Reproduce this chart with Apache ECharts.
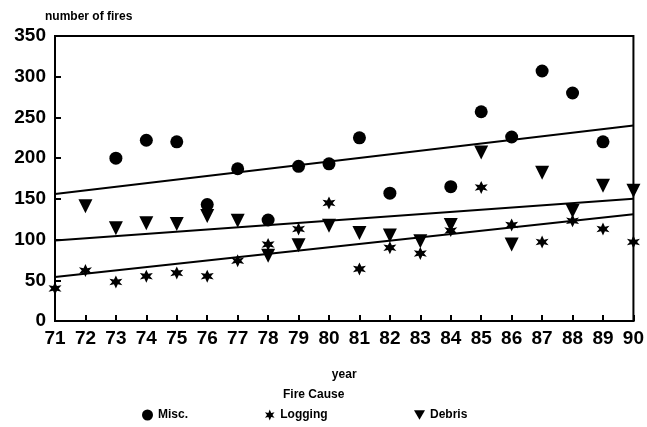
<!DOCTYPE html>
<html>
<head>
<meta charset="utf-8">
<script src="https://cdn.jsdelivr.net/npm/echarts@6/dist/echarts.min.js"></script>
<style>html,body{margin:0;padding:0;background:#fff;}#c{width:647px;height:427px;}</style>
</head>
<body>
<div id="c"></div>
<script>
var years = [71,72,73,74,75,76,77,78,79,80,81,82,83,84,85,86,87,88,89,90];
var misc =    [null,null,200,222,220,143,187,124,190,193,225,157,null,165,257,226,307,280,220,null];
var logging = [40,62,48,55,59,55,74,94,113,145,64,90,83,111,164,118,97,123,113,97];
var debris =  [null,141,114,120,119,129,123,80,93,117,108,105,98,118,207,94,182,135,166,160];
var trendYears = [71,90];
var miscTrend = [156,240];
var debrisTrend = [99,150];
var loggingTrend = [54,131];
var yTicks = [0,50,100,150,200,250,300,350];

function pairs(xs, ys){ var out=[]; for(var i=0;i<xs.length;i++){ if(ys[i]!==null) out.push([xs[i],ys[i]]); } return out; }

var starPath = 'path://M10 0 L12.6 6.4 L18.66 5 L14.9 10 L18.66 15 L12.6 13.6 L10 20 L7.4 13.6 L1.34 15 L5.1 10 L1.34 5 L7.4 6.4 Z';
var font = '"Liberation Sans", Arial, sans-serif';

var chart = echarts.init(document.getElementById('c'));
var lineStyle = {color:'#000', width:2};
var mk = {color:'#000', opacity:1};
chart.setOption({
  animation:false,
  backgroundColor:'#fff',
  grid:{left:55, right:13, top:36, bottom:106, show:true, borderColor:'#000', borderWidth:2},
  xAxis:{type:'value', min:71, max:90, interval:1,
    name:'year', nameLocation:'middle', nameGap:48,
    nameTextStyle:{fontFamily:font, fontWeight:'bold', fontSize:12, color:'#000'},
    axisLine:{show:true, onZero:false, lineStyle:{color:'#000', width:2}},
    axisTick:{show:true, inside:true, length:6, lineStyle:{color:'#000', width:2}},
    axisLabel:{fontFamily:font, fontSize:19, fontWeight:'bold', color:'#000', margin:8},
    splitLine:{show:false}},
  yAxis:{type:'value', min:0, max:350, interval:50,
    axisLine:{show:true, lineStyle:{color:'#000', width:2}},
    axisTick:{show:true, inside:true, length:6, lineStyle:{color:'#000', width:2}},
    axisLabel:{fontFamily:font, fontSize:19, fontWeight:'bold', color:'#000', margin:9,
      formatter:function(v){ return yTicks.indexOf(v)>=0 ? String(v) : ''; }},
    splitLine:{show:false}},
  legend:[
    {data:[{name:'Misc.', icon:'circle'}], left:137, top:404, itemWidth:11, itemHeight:11, itemGap:5,
      textStyle:{fontFamily:font, fontWeight:'bold', fontSize:12, color:'#000'}, selectedMode:false},
    {data:[{name:'Logging', icon:starPath}], left:260, top:404, itemWidth:11, itemHeight:11, itemGap:5,
      textStyle:{fontFamily:font, fontWeight:'bold', fontSize:12, color:'#000'}, selectedMode:false},
    {data:[{name:'Debris', icon:'path://M0 0 L20 0 L10 17 Z'}], left:409, top:404, itemWidth:11, itemHeight:11, itemGap:5,
      textStyle:{fontFamily:font, fontWeight:'bold', fontSize:12, color:'#000'}, selectedMode:false}
  ],
  graphic:[
    {type:'text', left:45, top:11, style:{text:'number of fires', font:'bold 12px '+font, fill:'#000'}},
    {type:'text', left:283, top:389, style:{text:'Fire Cause', font:'bold 12px '+font, fill:'#000'}}
  ],
  series:[
    {name:'Misc.', type:'scatter', symbol:'circle', symbolSize:13, itemStyle:mk, data:pairs(years, misc), z:3},
    {name:'Logging', type:'scatter', symbol:starPath, symbolSize:13, itemStyle:mk, data:pairs(years, logging), z:3},
    {name:'Debris', type:'scatter', symbol:'triangle', symbolRotate:180, symbolSize:14, itemStyle:mk, data:pairs(years, debris), z:3},
    {name:'miscTrend', type:'line', symbol:'none', silent:true, lineStyle:lineStyle, data:pairs(trendYears, miscTrend), z:2},
    {name:'debrisTrend', type:'line', symbol:'none', silent:true, lineStyle:lineStyle, data:pairs(trendYears, debrisTrend), z:2},
    {name:'loggingTrend', type:'line', symbol:'none', silent:true, lineStyle:lineStyle, data:pairs(trendYears, loggingTrend), z:2}
  ]
});
</script>
</body>
</html>
